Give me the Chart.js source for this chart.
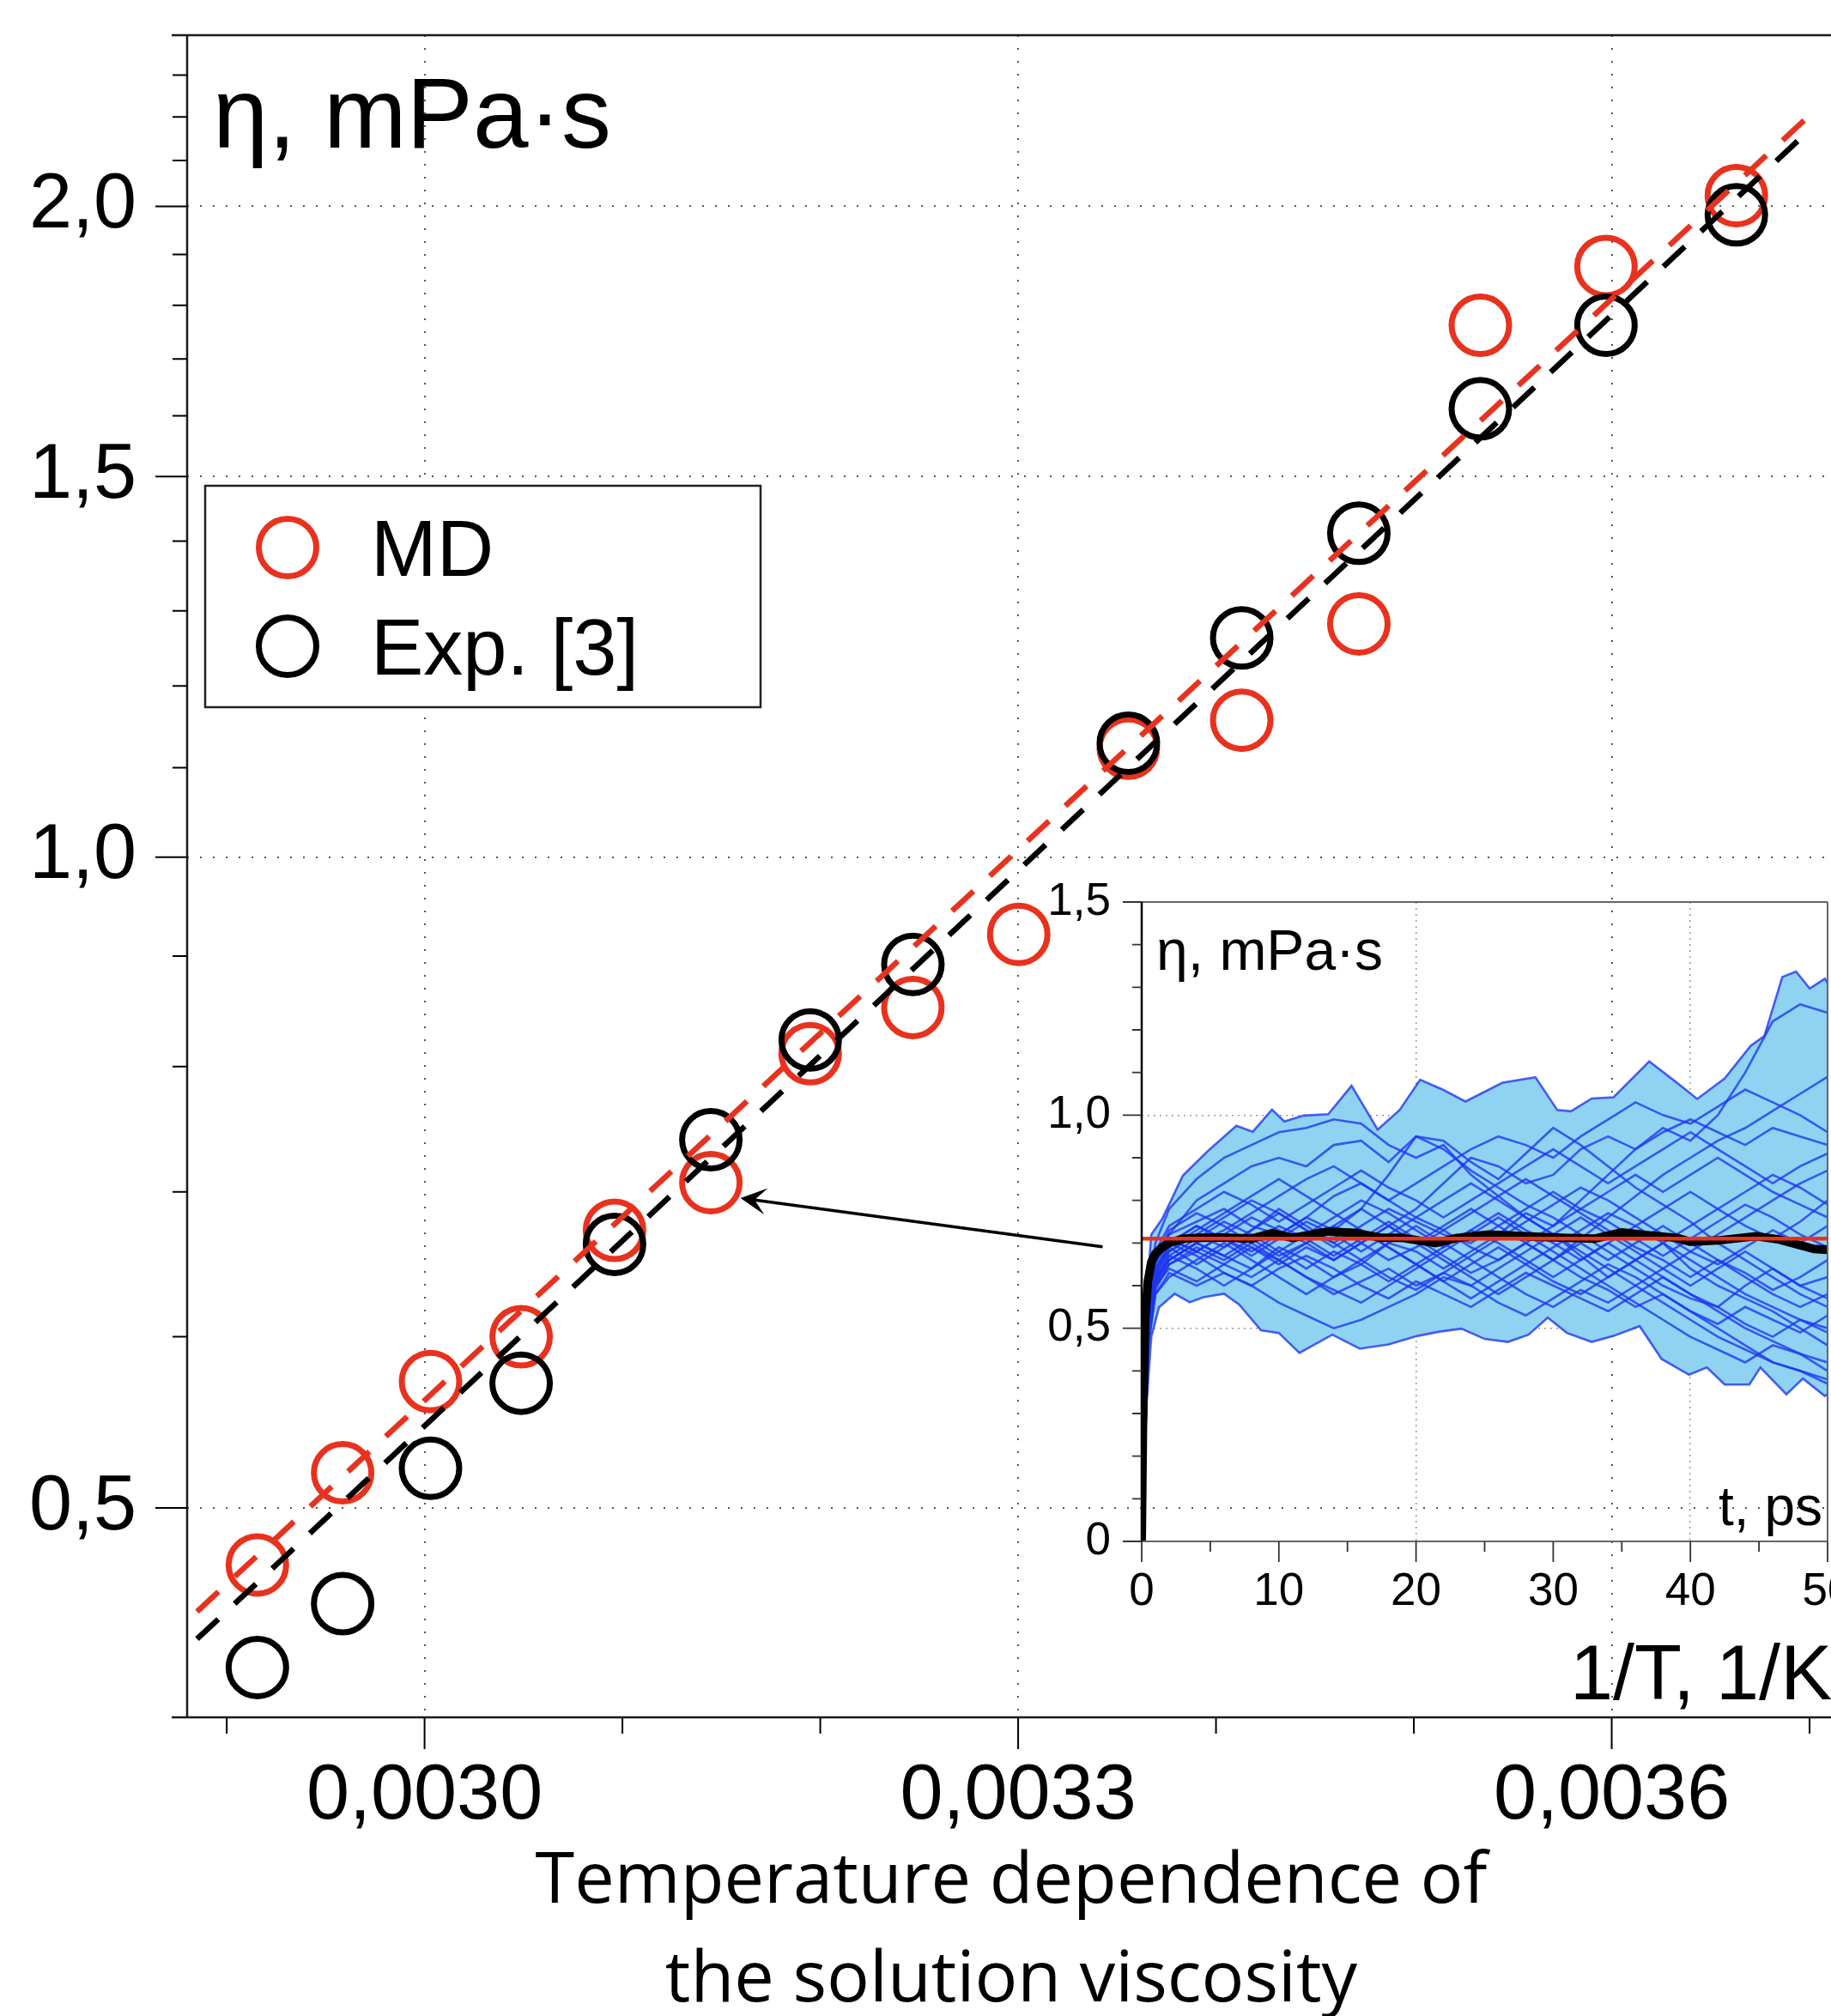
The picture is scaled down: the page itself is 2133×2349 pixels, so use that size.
<!DOCTYPE html>
<html>
<head>
<meta charset="utf-8">
<script src="https://cdn.jsdelivr.net/npm/chart.js@4.4.1/dist/chart.umd.min.js"></script>
<style>
html,body{margin:0;padding:0;background:#fff;overflow:hidden;}
#wrap{position:relative;width:2133px;height:2349px;overflow:hidden;background:#fff;}
#main{position:absolute;left:0;top:0;}
#inset{position:absolute;left:1150px;top:1000px;}
</style>
</head>
<body>
<div id="wrap">
<canvas id="main" width="2200" height="2349"></canvas>
<canvas id="inset" width="1080" height="900"></canvas>
</div>
<script>
// ---------------- main chart data ----------------
const invT = [0.0029155, 0.0029586, 0.0030030, 0.0030488, 0.0030960, 0.0031447, 0.0031949, 0.0032468, 0.0033003, 0.0033557, 0.0034130, 0.0034722, 0.0035336, 0.0035971, 0.0036630];
const mdVisc = [0.4705, 0.519, 0.572, 0.600, 0.672, 0.707, 0.811, 0.852, 0.921, 1.123, 1.157, 1.282, 1.762, 1.876, 2.023];
const expVisc = [0.4218, 0.4515, 0.5215, 0.571, 0.662, 0.740, 0.823, 0.892, null, 1.129, 1.263, 1.412, 1.612, 1.762, 1.982];
const fitInvT = [0.002885, 0.0037007];
const mdFit = [0.4477, 2.2067];
const expFit = [0.4348, 2.173];
const seriesLabels = ['MD', 'Exp. [3]'];

const xTickValues = [0.0030, 0.0033, 0.0036];
const xTickLabels = ['0,0030', '0,0033', '0,0036'];
const xMinorTicks = [0.0029, 0.0031, 0.0032, 0.0034, 0.0035, 0.0037];
const yTickValues = [0.5, 1.0, 1.5, 2.0];
const yTickLabels = ['0,5', '1,0', '1,5', '2,0'];
const yMinorTicks = [0.6, 0.7, 0.8, 0.9, 1.1, 1.2, 1.3, 1.4, 1.6, 1.7, 1.8, 1.9, 2.1, 2.2, 2.3];

const mainTitle = 'η, mPa·s';
const mainXName = '1/T, 1/K';
const captionLines = ['Temperature dependence of', 'the solution viscosity'];
const arrowFrom = {x: 0.0033427, y: 0.6603};
const arrowTo = {x: 0.0031597, y: 0.6955};

// ---------------- inset data ----------------
const insetTitle = 'η, mPa·s';
const insetXName = 't, ps';
const insetXTicks = [0, 10, 20, 30, 40, 50];
const insetXLabels = ['0', '10', '20', '30', '40', '50'];
const insetXMinor = [5, 15, 25, 35, 45];
const insetXGrid = [20, 40];
const insetYTicks = [0, 0.5, 1.0, 1.5];
const insetYLabels = ['0', '0,5', '1,0', '1,5'];
const insetYMinor = [0.1, 0.2, 0.3, 0.4, 0.6, 0.7, 0.8, 0.9, 1.1, 1.2, 1.3, 1.4];
const insetYGrid = [0.5, 1.0];

const envUpperT = [0, 0.3, 0.7, 1.5, 3.0, 4.8, 6.9, 8.1, 9.5, 10.4, 11.8, 13.6, 15.3, 17.2, 18.8, 20.3, 22.0, 23.6, 26.3, 28.7, 30.3, 31.3, 32.8, 34.4, 37.0, 38.9, 40.5, 42.5, 44.4, 45.4, 46.7, 47.7, 48.7, 49.8, 50];
const envUpperV = [0, 0.55, 0.72, 0.757, 0.858, 0.915, 0.975, 0.961, 1.013, 0.985, 0.999, 1.002, 1.069, 0.966, 1.012, 1.083, 1.059, 1.032, 1.076, 1.089, 1.012, 1.009, 1.039, 1.042, 1.126, 1.079, 1.038, 1.086, 1.163, 1.186, 1.324, 1.337, 1.297, 1.320, 1.31];
const envLowerT = [0, 0.3, 0.7, 1.26, 2.4, 3.5, 4.5, 6.0, 7.1, 8.7, 10.0, 11.5, 12.6, 13.9, 15.9, 18.0, 20.1, 21.7, 23.3, 25.0, 26.7, 28.2, 29.6, 31.0, 32.8, 34.4, 36.3, 37.9, 39.9, 41.2, 42.5, 44.3, 45.1, 47.0, 48.2, 49.8, 50];
const envLowerV = [0, 0.30, 0.48, 0.549, 0.581, 0.561, 0.573, 0.581, 0.556, 0.495, 0.489, 0.442, 0.462, 0.485, 0.452, 0.462, 0.482, 0.492, 0.499, 0.475, 0.468, 0.485, 0.525, 0.489, 0.468, 0.482, 0.505, 0.428, 0.391, 0.408, 0.368, 0.368, 0.408, 0.345, 0.382, 0.341, 0.345];

const runTimes = [0, 0.5, 1, 2, 4, 6, 8, 10, 12, 14, 16, 18, 20, 22, 24, 26, 28, 30, 32, 34, 36, 38, 40, 42, 44, 46, 48, 50];
const runCurves = [
  [0, .58, .70, .78, .85, .90, .93, .96, .97, .99, .98, .93, .90, .93, .86, .81, .76, .72, .67, .62, .66, .70, .64, .60, .57, .54, .50, .46],
  [0, .55, .66, .72, .80, .84, .88, .90, .88, .93, .94, .89, .95, .94, .89, .85, .91, .97, .93, .88, .83, .79, .75, .70, .66, .62, .58, .55],
  [0, .56, .67, .72, .75, .78, .74, .72, .76, .81, .84, .80, .84, .88, .92, .95, .93, .90, .95, .99, 1.03, 1.00, .98, 1.02, 1.06, 1.03, 1.00, .96],
  [0, .50, .60, .66, .70, .67, .64, .69, .66, .62, .65, .70, .68, .64, .68, .72, .77, .74, .80, .86, .92, .97, .94, 1.00, 1.10, 1.22, 1.26, 1.24],
  [0, .53, .63, .68, .72, .76, .80, .77, .73, .70, .74, .78, .75, .72, .70, .74, .70, .66, .71, .76, .81, .86, .90, .94, .97, 1.01, 1.05, 1.09],
  [0, .52, .62, .70, .74, .71, .68, .72, .76, .73, .78, .86, .95, .92, .87, .83, .79, .76, .72, .68, .64, .60, .57, .55, .60, .64, .60, .57],
  [0, .54, .65, .71, .68, .72, .76, .73, .70, .66, .70, .74, .78, .84, .90, .88, .84, .86, .92, .95, .92, .96, .99, .96, .93, .97, .95, .93],
  [0, .57, .66, .70, .67, .63, .60, .56, .53, .50, .52, .55, .58, .62, .60, .56, .53, .57, .61, .65, .62, .58, .54, .50, .46, .42, .40, .38],
  [0, .52, .62, .68, .72, .69, .73, .78, .74, .70, .66, .62, .59, .63, .67, .71, .75, .79, .83, .80, .76, .72, .68, .72, .76, .80, .84, .87],
  [0, .48, .60, .64, .61, .65, .69, .66, .62, .59, .56, .60, .64, .68, .72, .76, .72, .68, .64, .60, .56, .52, .48, .45, .42, .46, .44, .40],
  [0, .54, .64, .69, .73, .77, .81, .85, .81, .77, .73, .69, .65, .61, .57, .61, .65, .69, .73, .77, .74, .78, .82, .78, .74, .71, .75, .80],
  [0, .56, .66, .73, .77, .74, .70, .66, .70, .74, .70, .66, .69, .73, .77, .81, .85, .81, .77, .73, .69, .66, .62, .66, .63, .59, .62, .66],
  [0, .47, .58, .62, .66, .70, .66, .62, .58, .62, .66, .70, .74, .70, .66, .62, .58, .55, .59, .56, .60, .64, .68, .65, .69, .73, .70, .74],
  [0, .51, .61, .67, .64, .60, .64, .68, .72, .76, .80, .77, .73, .69, .73, .77, .73, .70, .66, .70, .74, .70, .66, .62, .58, .55, .52, .50],
  [0, .50, .61, .66, .70, .73, .77, .81, .85, .88, .84, .80, .76, .80, .84, .80, .76, .72, .76, .72, .68, .64, .60, .64, .68, .64, .60, .62],
  [0, .46, .58, .63, .60, .63, .60, .64, .67, .64, .60, .57, .61, .58, .55, .59, .63, .60, .57, .54, .58, .62, .58, .54, .50, .47, .44, .42],
  [0, .58, .68, .74, .78, .82, .79, .75, .79, .83, .87, .83, .80, .76, .80, .84, .88, .92, .88, .84, .88, .92, .96, .92, .88, .84, .88, .91],
  [0, .49, .60, .65, .69, .66, .70, .74, .71, .67, .71, .75, .71, .67, .63, .66, .70, .66, .62, .59, .55, .58, .54, .51, .55, .52, .49, .53],
  [0, .55, .64, .70, .74, .71, .67, .71, .75, .72, .68, .72, .76, .73, .69, .66, .70, .74, .78, .75, .71, .67, .71, .75, .79, .76, .72, .69],
  [0, .50, .61, .67, .71, .75, .72, .68, .64, .68, .65, .61, .65, .69, .73, .70, .66, .62, .66, .70, .66, .70, .74, .78, .82, .86, .83, .79],
  [0, .57, .67, .71, .68, .72, .69, .65, .69, .66, .70, .74, .70, .66, .62, .58, .62, .66, .70, .66, .70, .74, .70, .66, .62, .58, .55, .58],
  [0, .53, .63, .69, .65, .69, .73, .77, .73, .69, .73, .69, .65, .61, .65, .69, .65, .61, .58, .62, .66, .62, .58, .55, .51, .48, .52, .49],
  [0, .51, .62, .66, .70, .67, .71, .67, .70, .74, .78, .74, .70, .74, .78, .74, .78, .82, .78, .82, .86, .82, .86, .90, .86, .82, .79, .76],
  [0, .47, .59, .65, .68, .65, .62, .66, .62, .58, .61, .64, .60, .63, .60, .64, .68, .72, .68, .64, .60, .56, .52, .48, .45, .42, .40, .37]
];
const meanT = [0, 0.1, 0.25, 0.45, 0.7, 1.0, 1.5, 2, 3, 4, 6, 8, 9.5, 11, 13.6, 15.5, 17.5, 19, 21.4, 23, 25.3, 28, 31, 33, 35, 37, 39, 40, 42, 44.8, 46.5, 48, 49, 50];
const meanV = [0, 0.30, 0.52, 0.61, 0.655, 0.675, 0.69, 0.70, 0.71, 0.712, 0.713, 0.71, 0.723, 0.712, 0.727, 0.724, 0.712, 0.712, 0.700, 0.712, 0.720, 0.716, 0.712, 0.710, 0.725, 0.718, 0.712, 0.703, 0.706, 0.716, 0.708, 0.695, 0.686, 0.684];
const avgT = [0, 50];
const avgV = [0.71, 0.71];

// ---------------- helpers / styles ----------------
const RED = '#e8321e';
const BLUE = 'rgba(30,52,240,0.78)';
const FILL = '#8fd2f2';
const SANS = '"Liberation Sans", Arial, Helvetica, sans-serif';
function pts(xs, ys) {
  return xs.map((x, i) => ({x: x, y: ys[i]})).filter(p => p.y !== null && p.y !== undefined);
}

// ---------------- main chart decorations ----------------
const mainDecor = {
  id: 'mainDecor',
  beforeDraw(chart) {
    const c = chart.ctx; c.save(); c.fillStyle = '#fff'; c.fillRect(0, 0, chart.width, chart.height); c.restore();
  },
  afterDatasetsDraw(chart) {
    const {ctx, chartArea: a, scales: {x, y}} = chart;
    ctx.save();
    // frame
    ctx.strokeStyle = '#1a1a1a'; ctx.lineWidth = 2.5;
    ctx.beginPath();
    ctx.moveTo(a.left - 18, a.top); ctx.lineTo(chart.width, a.top);
    ctx.moveTo(a.left - 18, a.bottom); ctx.lineTo(chart.width, a.bottom);
    ctx.moveTo(a.left, a.top); ctx.lineTo(a.left, a.bottom);
    ctx.stroke();
    // ticks
    ctx.strokeStyle = '#000'; ctx.lineWidth = 2;
    ctx.beginPath();
    xTickValues.forEach(v => { const p = x.getPixelForValue(v); ctx.moveTo(p, a.bottom); ctx.lineTo(p, a.bottom + 37); });
    xMinorTicks.forEach(v => { const p = x.getPixelForValue(v); ctx.moveTo(p, a.bottom); ctx.lineTo(p, a.bottom + 19); });
    yTickValues.forEach(v => { const p = y.getPixelForValue(v); ctx.moveTo(a.left - 37, p); ctx.lineTo(a.left, p); });
    yMinorTicks.forEach(v => { const p = y.getPixelForValue(v); ctx.moveTo(a.left - 17, p); ctx.lineTo(a.left, p); });
    ctx.stroke();
    // arrow
    const p0 = {x: x.getPixelForValue(arrowFrom.x), y: y.getPixelForValue(arrowFrom.y)};
    const p1 = {x: x.getPixelForValue(arrowTo.x), y: y.getPixelForValue(arrowTo.y)};
    const ang = Math.atan2(p1.y - p0.y, p1.x - p0.x);
    const L = 30, W = 15.5, cs = Math.cos(ang), sn = Math.sin(ang);
    ctx.strokeStyle = '#000'; ctx.fillStyle = '#000'; ctx.lineWidth = 3.5;
    ctx.beginPath(); ctx.moveTo(p0.x, p0.y); ctx.lineTo(p1.x - cs * L * 0.5, p1.y - sn * L * 0.5); ctx.stroke();
    const bx = p1.x - cs * L, by = p1.y - sn * L;
    ctx.beginPath();
    ctx.moveTo(p1.x, p1.y);
    ctx.lineTo(bx - sn * W, by + cs * W);
    ctx.lineTo(p1.x - cs * L * 0.55, p1.y - sn * L * 0.55);
    ctx.lineTo(bx + sn * W, by - cs * W);
    ctx.closePath(); ctx.fill();
    // legend
    ctx.fillStyle = '#fff'; ctx.fillRect(239, 566, 647, 258);
    ctx.strokeStyle = '#222'; ctx.lineWidth = 2.5; ctx.strokeRect(239, 566, 647, 258);
    ctx.font = '92px ' + SANS; ctx.textBaseline = 'alphabetic'; ctx.textAlign = 'left';
    chart.data.datasets.slice(0, 2).forEach((d, i) => {
      const cy = 638 + i * 115;
      ctx.strokeStyle = d.borderColor; ctx.lineWidth = 7;
      ctx.beginPath(); ctx.arc(335, cy, 33.5, 0, Math.PI * 2); ctx.stroke();
      ctx.fillStyle = '#000'; ctx.fillText(d.label, 432, cy + 33);
    });
    // texts
    ctx.fillStyle = '#000';
    ctx.font = '116px ' + SANS; ctx.fillText(mainTitle, 248, 172);
    ctx.font = '90px ' + SANS; ctx.fillText(mainXName, 1829, 1980);
    ctx.font = '83px "Open Sans", "Noto Sans", sans-serif'; ctx.textAlign = 'center';
    const cx = (a.left + a.right) / 2;
    ctx.fillText(captionLines[0], cx, 2217);
    ctx.fillText(captionLines[1], cx, 2332);
    ctx.restore();
  }
};

new Chart(document.getElementById('main'), {
  type: 'scatter',
  data: {
    datasets: [
      {label: seriesLabels[0], data: pts(invT, mdVisc), borderColor: RED, backgroundColor: 'rgba(0,0,0,0)', borderWidth: 7, pointRadius: 33.5, pointHoverRadius: 33.5, order: 4},
      {label: seriesLabels[1], data: pts(invT, expVisc), borderColor: '#000', backgroundColor: 'rgba(0,0,0,0)', borderWidth: 7, pointRadius: 33.5, pointHoverRadius: 33.5, order: 3},
      {label: 'MD fit', data: pts(fitInvT, mdFit), showLine: true, borderColor: RED, borderWidth: 6.5, borderDash: [34, 26], pointRadius: 0, fill: false, order: 1},
      {label: 'Exp. fit', data: pts(fitInvT, expFit), showLine: true, borderColor: '#000', borderWidth: 6.5, borderDash: [34, 26], pointRadius: 0, fill: false, order: 2}
    ]
  },
  options: {
    responsive: false, animation: false, devicePixelRatio: 1, events: [],
    layout: {autoPadding: false, padding: {left: 0, top: 41, right: 62, bottom: 0}},
    plugins: {legend: {display: false}, tooltip: {enabled: false}},
    scales: {
      x: {
        type: 'linear', min: 0.00288, max: 0.003713, bounds: 'data',
        afterBuildTicks: s => { s.ticks = xTickValues.map(v => ({value: v})); },
        afterFit: s => { s.height = 348; s.paddingLeft = 0; s.paddingRight = 0; },
        grid: {color: '#555', lineWidth: 2, drawTicks: false},
        border: {display: false, dash: [2, 13]},
        ticks: {autoSkip: false, maxRotation: 0, padding: 39, color: '#000', font: {family: SANS, size: 90}, callback: (v, i) => xTickLabels[i]}
      },
      y: {
        type: 'logarithmic', min: 0.4, max: 2.4, bounds: 'data',
        afterBuildTicks: s => { s.ticks = yTickValues.map(v => ({value: v})); },
        afterFit: s => { s.width = 218; s.paddingTop = 0; s.paddingBottom = 0; },
        grid: {color: '#555', lineWidth: 2, drawTicks: false},
        border: {display: false, dash: [2, 13]},
        ticks: {autoSkip: false, padding: 59, color: '#000', font: {family: SANS, size: 90}, callback: (v, i) => yTickLabels[i]}
      }
    }
  },
  plugins: [mainDecor]
});

// ---------------- inset chart ----------------
const insetDecor = {
  id: 'insetDecor',
  afterDatasetsDraw(chart) {
    const {ctx, chartArea: a, scales: {x, y}} = chart;
    ctx.save();
    ctx.strokeStyle = '#666'; ctx.lineWidth = 2;
    ctx.beginPath();
    ctx.moveTo(a.left - 22, a.top); ctx.lineTo(a.right, a.top);
    ctx.moveTo(a.left - 22, a.bottom); ctx.lineTo(a.right, a.bottom);
    ctx.moveTo(a.right, a.top); ctx.lineTo(a.right, a.bottom);
    ctx.stroke();
    ctx.strokeStyle = '#000'; ctx.lineWidth = 2.5;
    ctx.beginPath(); ctx.moveTo(a.left, a.top); ctx.lineTo(a.left, a.bottom); ctx.stroke();
    ctx.strokeStyle = '#333'; ctx.lineWidth = 1.8;
    ctx.beginPath();
    insetXTicks.forEach(v => { const p = x.getPixelForValue(v); ctx.moveTo(p, a.bottom); ctx.lineTo(p, a.bottom + 24); });
    insetXMinor.forEach(v => { const p = x.getPixelForValue(v); ctx.moveTo(p, a.bottom); ctx.lineTo(p, a.bottom + 12); });
    insetYTicks.forEach(v => { const p = y.getPixelForValue(v); ctx.moveTo(a.left - 22, p); ctx.lineTo(a.left, p); });
    insetYMinor.forEach(v => { const p = y.getPixelForValue(v); ctx.moveTo(a.left - 11, p); ctx.lineTo(a.left, p); });
    ctx.stroke();
    ctx.fillStyle = '#000'; ctx.textBaseline = 'alphabetic';
    ctx.font = '66px ' + SANS; ctx.textAlign = 'left';
    ctx.fillText(insetTitle, a.left + 17, a.top + 79);
    ctx.textAlign = 'right';
    ctx.font = '64px ' + SANS;
    ctx.fillText(insetXName, a.right - 6, a.bottom - 19);
    ctx.restore();
  }
};

const insetSets = [];
insetSets.push({label: 'max', data: pts(envUpperT, envUpperV), showLine: true, borderColor: BLUE, borderWidth: 2.6, backgroundColor: FILL, fill: '+1', pointRadius: 0, order: 10});
insetSets.push({label: 'min', data: pts(envLowerT, envLowerV), showLine: true, borderColor: BLUE, borderWidth: 2.6, fill: false, pointRadius: 0, order: 9});
runCurves.forEach((r, i) => insetSets.push({label: 'run ' + (i + 1), data: pts(runTimes, r), showLine: true, borderColor: BLUE, borderWidth: 2.6, fill: false, pointRadius: 0, order: 5}));
insetSets.push({label: 'mean', data: pts(meanT, meanV), showLine: true, borderColor: '#000', borderWidth: 10, borderJoinStyle: 'round', borderCapStyle: 'round', fill: false, pointRadius: 0, order: 2});
insetSets.push({label: 'average', data: pts(avgT, avgV), showLine: true, borderColor: RED, borderWidth: 4.5, fill: false, pointRadius: 0, order: 1});

new Chart(document.getElementById('inset'), {
  type: 'scatter',
  data: {datasets: insetSets},
  options: {
    responsive: false, animation: false, devicePixelRatio: 1, events: [],
    layout: {autoPadding: false, padding: {left: 0, top: 51, right: 101, bottom: 0}},
    plugins: {legend: {display: false}, tooltip: {enabled: false}},
    scales: {
      x: {
        type: 'linear', min: 0, max: 50, bounds: 'data',
        afterBuildTicks: s => { s.ticks = insetXTicks.map(v => ({value: v})); },
        afterFit: s => { s.height = 104; s.paddingLeft = 0; s.paddingRight = 0; },
        grid: {drawTicks: false, lineWidth: 1.5, color: c => (c.tick && insetXGrid.includes(c.tick.value)) ? '#9a9a9a' : 'rgba(0,0,0,0)'},
        border: {display: false, dash: [2, 5]},
        ticks: {autoSkip: false, maxRotation: 0, padding: 28, color: '#000', font: {family: SANS, size: 53}, callback: (v, i) => insetXLabels[i]}
      },
      y: {
        type: 'linear', min: 0, max: 1.5, bounds: 'data',
        afterBuildTicks: s => { s.ticks = insetYTicks.map(v => ({value: v})); },
        afterFit: s => { s.width = 180; s.paddingTop = 0; s.paddingBottom = 0; },
        grid: {drawTicks: false, lineWidth: 1.5, color: c => (c.tick && insetYGrid.includes(c.tick.value)) ? '#9a9a9a' : 'rgba(0,0,0,0)'},
        border: {display: false, dash: [2, 5]},
        ticks: {autoSkip: false, padding: 36, color: '#000', font: {family: SANS, size: 53}, callback: (v, i) => insetYLabels[i]}
      }
    }
  },
  plugins: [insetDecor]
});
</script>
</body>
</html>
